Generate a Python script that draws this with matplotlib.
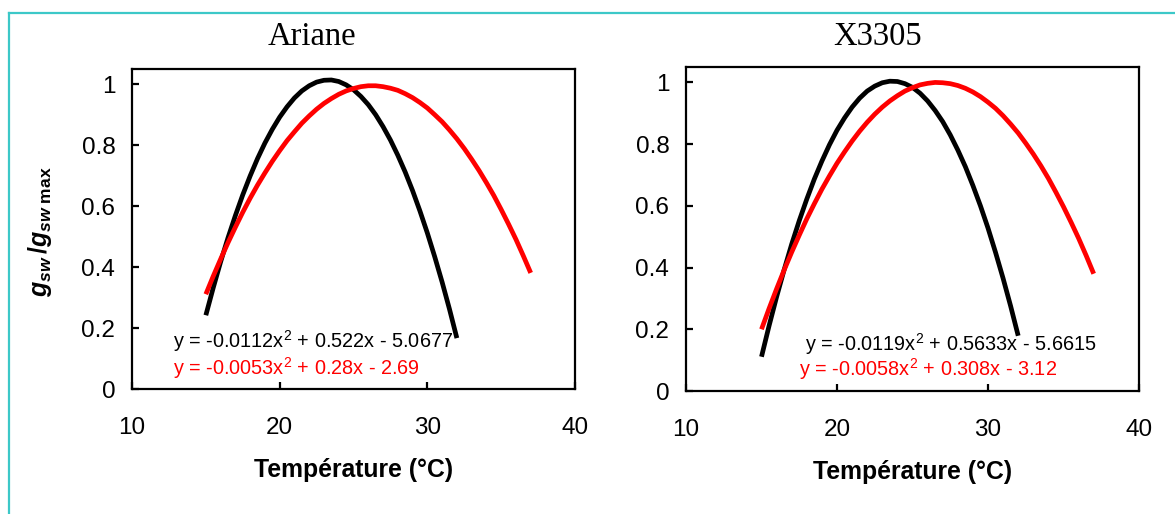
import matplotlib
matplotlib.use('Agg')
import matplotlib.pyplot as plt
from matplotlib.lines import Line2D

plt.rcParams['font.family'] = 'Liberation Sans'
plt.rcParams['mathtext.fontset'] = 'custom'
plt.rcParams['mathtext.rm'] = 'Liberation Sans:bold'
plt.rcParams['mathtext.it'] = 'Liberation Sans:italic:bold'
plt.rcParams['mathtext.bf'] = 'Liberation Sans:bold'

# temperatures (°C), read every half degree
temp_black = [15, 15.5, 16, 16.5, 17, 17.5, 18, 18.5, 19, 19.5, 20, 20.5, 21, 21.5,
              22, 22.5, 23, 23.5, 24, 24.5, 25, 25.5, 26, 26.5, 27, 27.5, 28, 28.5,
              29, 29.5, 30, 30.5, 31, 31.5, 32]
temp_red = [15, 15.5, 16, 16.5, 17, 17.5, 18, 18.5, 19, 19.5, 20, 20.5, 21, 21.5,
            22, 22.5, 23, 23.5, 24, 24.5, 25, 25.5, 26, 26.5, 27, 27.5, 28, 28.5,
            29, 29.5, 30, 30.5, 31, 31.5, 32, 32.5, 33, 33.5, 34, 34.5, 35, 35.5,
            36, 36.5, 37]

# Ariane - gsw/gsw max
ariane_black = [0.242, 0.332, 0.417, 0.496, 0.569, 0.637, 0.699, 0.756, 0.807, 0.852,
                0.892, 0.926, 0.955, 0.978, 0.995, 1.007, 1.013, 1.014, 1.009, 0.998,
                0.982, 0.960, 0.933, 0.900, 0.861, 0.817, 0.767, 0.712, 0.651, 0.584,
                0.512, 0.434, 0.351, 0.262, 0.167]
ariane_red = [0.311, 0.370, 0.426, 0.480, 0.531, 0.580, 0.626, 0.669, 0.709, 0.747,
              0.782, 0.815, 0.844, 0.872, 0.896, 0.918, 0.937, 0.953, 0.967, 0.978,
              0.986, 0.992, 0.995, 0.995, 0.992, 0.987, 0.980, 0.969, 0.956, 0.940,
              0.922, 0.900, 0.877, 0.850, 0.821, 0.789, 0.754, 0.717, 0.677, 0.635,
              0.589, 0.541, 0.491, 0.437, 0.381]

# X3305
x3305_black = [0.111, 0.211, 0.305, 0.393, 0.476, 0.552, 0.622, 0.687, 0.745, 0.798,
               0.845, 0.885, 0.920, 0.949, 0.972, 0.988, 0.999, 1.004, 1.003, 0.996,
               0.984, 0.965, 0.940, 0.909, 0.873, 0.830, 0.781, 0.727, 0.666, 0.600,
               0.528, 0.449, 0.365, 0.275, 0.179]
x3305_red = [0.200, 0.267, 0.331, 0.392, 0.450, 0.505, 0.558, 0.607, 0.654, 0.697,
             0.738, 0.775, 0.810, 0.842, 0.871, 0.897, 0.920, 0.940, 0.957, 0.972,
             0.983, 0.992, 0.997, 1.000, 0.999, 0.996, 0.990, 0.981, 0.969, 0.954,
             0.936, 0.916, 0.892, 0.865, 0.836, 0.803, 0.768, 0.730, 0.689, 0.644,
             0.597, 0.547, 0.495, 0.439, 0.380]

titles = ['Ariane', 'X3305']
eq_black = [r'y = -0.0112x$^{\mathregular{2}}$ + 0.522x - 5.0677',
            r'y = -0.0119x$^{\mathregular{2}}$ + 0.5633x - 5.6615']
eq_red = [r'y = -0.0053x$^{\mathregular{2}}$ + 0.28x - 2.69',
          r'y = -0.0058x$^{\mathregular{2}}$ + 0.308x - 3.12']

W, H = 1175, 514
fig = plt.figure(figsize=(W / 100, H / 100), dpi=100)

# axes boxes in pixels: left, top, right, bottom
boxes = [(132, 69, 575, 389), (686, 67, 1139, 391)]
title_x = [312, 878]
eq_pos = [((173, 348), (173, 375)), ((805, 351), (799, 376))]
series = [(ariane_black, ariane_red), (x3305_black, x3305_red)]

for i in range(2):
    l, t, r, b = boxes[i]
    ax = fig.add_axes([l / W, 1 - b / H, (r - l) / W, (b - t) / H])
    blk, red = series[i]
    ax.plot(temp_black, blk, color='black', lw=3.4, solid_capstyle='butt',
            solid_joinstyle='round')
    ax.plot(temp_red, red, color='#ff0000', lw=3.4, solid_capstyle='butt',
            solid_joinstyle='round')
    ax.set_xlim(10, 40)
    ax.set_ylim(0, 1.05)
    ax.set_xticks([10, 20, 30, 40])
    ax.set_yticks([0, 0.2, 0.4, 0.6, 0.8, 1])
    ax.set_yticklabels(['0', '0.2', '0.4', '0.6', '0.8', '1'])
    ax.tick_params(direction='in', length=5, width=1.6, labelsize=17.5, color='black')
    ax.tick_params(axis='y', pad=12)
    ax.tick_params(axis='x', pad=20)
    for s in ax.spines.values():
        s.set_linewidth(1.6)
    ax.set_xlabel('Température (°C)', fontsize=17.8, fontweight='bold', labelpad=14)

    fig.text(title_x[i] / W, 1 - 37 / H, titles[i], family='Liberation Serif',
             fontsize=23.5, ha='center', va='center')
    (bx, by), (rx, ry) = eq_pos[i]
    fig.text(bx / W, 1 - by / H, eq_black[i], fontsize=14.3, color='black',
             ha='left', va='baseline')
    fig.text(rx / W, 1 - ry / H, eq_red[i], fontsize=14.3, color='#ff0000',
             ha='left', va='baseline')

fig.text(40 / W, 1 - 232 / H, r'$g_{sw}\,/g_{sw\ \mathrm{max}}$', fontsize=18,
         rotation=90, ha='center', va='center')

# frame around the figure (only top and left visible)
fig.add_artist(Line2D([8.5 / W, 8.5 / W], [0, 1 - 13 / H], transform=fig.transFigure,
                      color='#3cc8c8', lw=1.6))
fig.add_artist(Line2D([8.5 / W, 1], [1 - 13 / H, 1 - 13 / H], transform=fig.transFigure,
                      color='#3cc8c8', lw=1.6))

fig.savefig('out.png', dpi=100)
